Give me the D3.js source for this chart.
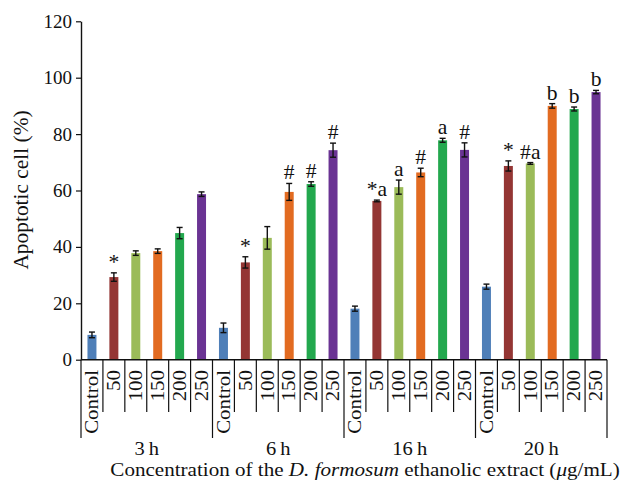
<!DOCTYPE html>
<html>
<head>
<meta charset="utf-8">
<script src="https://cdn.jsdelivr.net/npm/d3@7"></script>
<style>
  html, body { margin: 0; padding: 0; background: #fff; }
  svg text { font-family: "Liberation Serif", "Times New Roman", serif; fill: #111; }
</style>
</head>
<body>
<svg id="chart" width="626" height="489"></svg>
<script>
// chart values
const times = ['3\u2009h', '6\u2009h', '16\u2009h', '20\u2009h'];
const concentrations = ['Control', '50', '100', '150', '200', '250'];
const barColors = ['#4f7fb8', '#943634', '#9bbb59', '#e26b21', '#23a84e', '#6a3393'];

const means3h = [8.8, 29.3, 37.8, 38.5, 44.9, 58.7];
const means6h = [11.3, 34.5, 43.2, 59.5, 62.3, 74.3];
const means16h = [18.1, 56.3, 61.2, 66.4, 77.8, 74.4];
const means20h = [25.9, 68.7, 69.6, 90.0, 88.9, 94.9];

const err3h = [1.0, 1.5, 0.8, 0.8, 2.0, 0.8];
const err6h = [1.7, 2.0, 4.0, 3.0, 0.8, 2.5];
const err16h = [0.9, 0.3, 2.5, 1.5, 0.7, 2.5];
const err20h = [0.9, 1.8, 0.3, 0.8, 0.7, 0.6];

const marks3h = ['', '*', '', '', '', ''];
const marks6h = ['', '*', '', '#', '#', '#'];
const marks16h = ['', '*a', 'a', '#', 'a', '#'];
const marks20h = ['', '*', '#a', 'b', 'b', 'b'];

const yTicks = [0, 20, 40, 60, 80, 100, 120];

// flatten into one row per bar
const groups = [
  [means3h, err3h, marks3h],
  [means6h, err6h, marks6h],
  [means16h, err16h, marks16h],
  [means20h, err20h, marks20h]
];
const rows = [];
groups.forEach(([m, e, k], gi) => {
  concentrations.forEach((c, ci) => {
    rows.push({ time: times[gi], conc: c, ci, key: `${gi}-${ci}`, value: m[ci], err: e[ci], mark: k[ci] });
  });
});

const svg = d3.select('#chart');
const plotLeft = 81, plotRight = 607, plotBottom = 359.7, plotTop = 21.3;

const x = d3.scaleBand()
  .domain(rows.map(d => d.key))
  .range([plotLeft, plotRight])
  .paddingInner(0.59)
  .paddingOuter(0.295);
const step = x.step();

const xGroup = d3.scaleBand()
  .domain(times)
  .range([plotLeft, plotRight]);

const y = d3.scaleLinear()
  .domain([0, 120])
  .range([plotBottom, plotTop]);

// y axis
const yAxis = svg.append('g')
  .attr('transform', `translate(${plotLeft},0)`)
  .call(d3.axisLeft(y).tickValues(yTicks).tickSize(5).tickSizeOuter(0).tickPadding(4));
yAxis.select('.domain').attr('stroke', '#111').attr('stroke-width', 1.4);
yAxis.selectAll('.tick line').attr('stroke', '#111').attr('stroke-width', 1.2);
yAxis.selectAll('.tick text')
  .attr('font-size', 19)
  .attr('font-family', '"Liberation Serif", serif')
  .attr('fill', '#111');

// the original face is a bit wider than Liberation Serif, so stretch text along its run
svg.append('text')
  .attr('transform', `translate(28,190) rotate(-90) scale(1.07,1)`)
  .attr('text-anchor', 'middle')
  .attr('font-size', 20)
  .text('Apoptotic cell (%)');

// bars
svg.append('g')
  .selectAll('rect')
  .data(rows)
  .join('rect')
  .attr('x', d => x(d.key))
  .attr('width', x.bandwidth())
  .attr('y', d => y(d.value))
  .attr('height', d => y(0) - y(d.value))
  .attr('fill', d => barColors[d.ci]);

// error bars
const eb = svg.append('g')
  .attr('stroke', '#111')
  .attr('stroke-width', 1.4)
  .selectAll('g')
  .data(rows)
  .join('g')
  .attr('transform', d => `translate(${x(d.key) + x.bandwidth() / 2},0)`);
eb.append('line')
  .attr('y1', d => y(d.value - d.err))
  .attr('y2', d => y(d.value + d.err));
eb.append('line')
  .attr('x1', -3).attr('x2', 3)
  .attr('y1', d => y(d.value + d.err))
  .attr('y2', d => y(d.value + d.err));
eb.append('line')
  .attr('x1', -3).attr('x2', 3)
  .attr('y1', d => y(d.value - d.err))
  .attr('y2', d => y(d.value - d.err));

// significance marks
svg.append('g')
  .selectAll('text')
  .data(rows.filter(d => d.mark))
  .join('text')
  .attr('transform', d => `translate(${x(d.key) + x.bandwidth() / 2},${y(d.value + d.err) - 4}) scale(1.08,1)`)
  .attr('text-anchor', 'middle')
  .attr('font-size', 20)
  .text(d => d.mark);

// x axis line and dividers
const xa = svg.append('g').attr('stroke', '#111');
xa.append('line')
  .attr('x1', plotLeft).attr('x2', plotRight)
  .attr('y1', plotBottom).attr('y2', plotBottom)
  .attr('stroke-width', 1.4);

const dividers = d3.range(rows.length + 1).map(i => ({ x: plotLeft + i * step, long: i % concentrations.length === 0 }));
xa.selectAll('line.div')
  .data(dividers)
  .join('line')
  .attr('class', 'div')
  .attr('x1', d => d.x).attr('x2', d => d.x)
  .attr('y1', plotBottom)
  .attr('y2', d => d.long ? 438 : 412)
  .attr('stroke-width', 1.2);

// category labels
svg.append('g')
  .selectAll('text')
  .data(rows)
  .join('text')
  .attr('transform', d => `translate(${x(d.key) + x.bandwidth() / 2},370) rotate(-90) scale(1.1,1)`)
  .attr('dy', '0.33em')
  .attr('text-anchor', 'end')
  .attr('font-size', 19)
  .text(d => d.conc);

// time group labels
svg.append('g')
  .selectAll('text')
  .data(times)
  .join('text')
  .attr('transform', d => `translate(${xGroup(d) + xGroup.bandwidth() / 2},455) scale(1.08,1)`)
  .attr('text-anchor', 'middle')
  .attr('font-size', 19)
  .text(d => d);

// x axis title
const title = svg.append('text')
  .attr('transform', 'translate(365,476) scale(1.11,1)')
  .attr('text-anchor', 'middle')
  .attr('font-size', 19);
title.append('tspan').text('Concentration of the ');
title.append('tspan').attr('font-style', 'italic').text('D. formosum');
title.append('tspan').text(' ethanolic extract (');
title.append('tspan').attr('font-style', 'italic').text('\u03bc');
title.append('tspan').text('g/mL)');
</script>
</body>
</html>
